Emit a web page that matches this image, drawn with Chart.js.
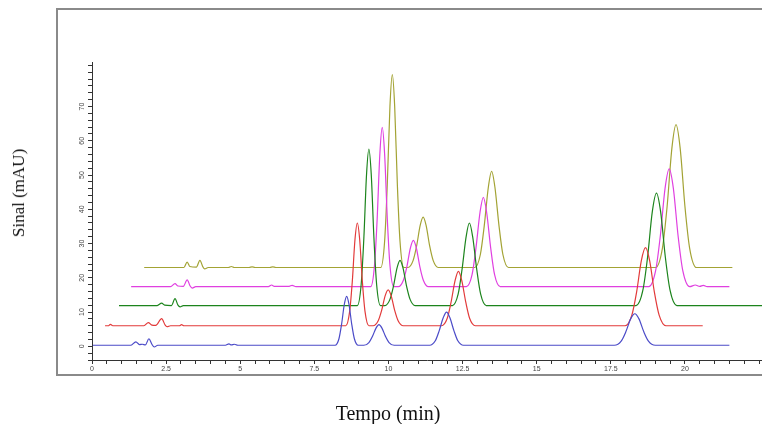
<!DOCTYPE html>
<html>
<head>
<meta charset="utf-8">
<script src="https://cdn.jsdelivr.net/npm/chart.js@4.4.1/dist/chart.umd.min.js"></script>
<style>
  body { margin: 0; background: #fff; }
  #wrap { position: relative; width: 762px; height: 424px; overflow: hidden; }
  #chart { position: absolute; left: 0; top: 0; }
  .axt { position: absolute; font-family: "Liberation Serif", "Times New Roman", serif; color: #111; white-space: nowrap; }
  #ytitle { font-size: 17px; left: 19px; top: 193px; transform: translate(-50%, -50%) rotate(-90deg); }
  #xtitle { font-size: 20px; left: 388px; top: 413px; transform: translate(-50%, -50%); }
</style>
</head>
<body>
<div id="wrap">
  <canvas id="chart" width="762" height="424"></canvas>
  <div class="axt" id="ytitle">Sinal (mAU)</div>
  <div class="axt" id="xtitle">Tempo (min)</div>
</div>
<script>
// chromatogram traces (time in min, signal in mAU)
const blueTime = [0.03, 1.30, 1.48, 1.60, 1.70, 1.80, 1.92, 2.02, 2.10, 2.22, 4.50, 4.62, 4.70, 4.80, 4.92,
  8.20, 8.33, 8.42, 8.51, 8.59, 8.67, 8.76, 8.85, 8.98,
  9.17, 9.34, 9.46, 9.58, 9.68, 9.78, 9.90, 10.02, 10.19,
  11.39, 11.58, 11.71, 11.85, 11.96, 12.07, 12.21, 12.34, 12.53,
  17.62, 17.85, 18.01, 18.17, 18.31, 18.45, 18.61, 18.77, 19.00, 21.50];
const blueSignal = [0.3, 0.3, 1.3, 0.5, 0.6, 0.4, 2.2, 0.6, -0.2, 0.3, 0.3, 0.7, 0.4, 0.6, 0.3,
  0.3, 2.2, 6.5, 12.2, 14.6, 12.2, 6.5, 2.2, 0.3,
  0.3, 1.1, 2.9, 5.3, 6.3, 5.3, 2.9, 1.1, 0.3,
  0.3, 1.6, 4.5, 8.4, 10.0, 8.4, 4.5, 1.6, 0.3,
  0.3, 1.5, 4.3, 8.0, 9.5, 8.0, 4.3, 1.5, 0.3, 0.3];

const redTime = [0.44, 0.55, 0.62, 0.70, 1.75, 1.90, 2.02, 2.15, 2.35, 2.46, 2.53, 2.65, 2.95, 3.02, 3.10,
  8.56, 8.69, 8.78, 8.87, 8.95, 9.03, 9.12, 9.21, 9.34,
  9.48, 9.65, 9.77, 9.89, 9.99, 10.09, 10.21, 10.33, 10.50,
  11.79, 11.98, 12.11, 12.25, 12.36, 12.47, 12.61, 12.74, 12.93,
  17.98, 18.21, 18.37, 18.53, 18.67, 18.81, 18.97, 19.13, 19.36, 20.60];
const redSignal = [6.0, 6.0, 6.4, 6.0, 6.0, 6.9, 6.2, 6.1, 8.1, 6.3, 5.7, 6.0, 6.0, 6.3, 6.0,
  6.0, 10.1, 18.9, 31.1, 36.0, 31.1, 18.9, 10.1, 6.0,
  6.0, 7.4, 10.5, 14.8, 16.5, 14.8, 10.5, 7.4, 6.0,
  6.0, 8.1, 12.8, 19.3, 21.9, 19.3, 12.8, 8.1, 6.0,
  6.0, 9.1, 15.8, 25.0, 28.8, 25.0, 15.8, 9.1, 6.0, 6.0];

const greenTime = [0.91, 2.20, 2.35, 2.45, 2.68, 2.80, 2.90, 2.97, 3.08,
  8.95, 9.08, 9.17, 9.26, 9.34, 9.42, 9.51, 9.60, 9.73,
  9.88, 10.05, 10.17, 10.29, 10.39, 10.49, 10.61, 10.73, 10.90,
  12.16, 12.35, 12.48, 12.62, 12.73, 12.84, 12.98, 13.11, 13.30,
  18.35, 18.58, 18.74, 18.90, 19.04, 19.18, 19.34, 19.50, 19.73, 22.60];
const greenSignal = [11.9, 11.9, 12.6, 12.0, 11.9, 13.9, 12.0, 11.5, 11.9,
  11.9, 18.1, 31.6, 50.1, 57.6, 50.1, 31.6, 18.1, 11.9,
  11.9, 13.7, 17.6, 22.9, 25.1, 22.9, 17.6, 13.7, 11.9,
  11.9, 15.2, 22.3, 32.0, 36.0, 32.0, 22.3, 15.2, 11.9,
  11.9, 16.3, 26.0, 39.3, 44.7, 39.3, 26.0, 16.3, 11.9, 11.9];

const magentaTime = [1.32, 2.65, 2.80, 2.90, 3.08, 3.21, 3.31, 3.38, 3.50, 5.95, 6.06, 6.15, 6.65, 6.75, 6.88,
  9.40, 9.53, 9.62, 9.71, 9.79, 9.87, 9.96, 10.05, 10.18,
  10.33, 10.50, 10.62, 10.74, 10.84, 10.94, 11.06, 11.18, 11.35,
  12.63, 12.82, 12.95, 13.09, 13.20, 13.31, 13.45, 13.58, 13.77,
  18.78, 19.01, 19.17, 19.33, 19.47, 19.61, 19.77, 19.93, 20.16,
  20.35, 20.50, 20.62, 20.75, 21.50];
const magentaSignal = [17.4, 17.4, 18.3, 17.6, 17.5, 19.4, 17.6, 17.0, 17.4, 17.4, 17.9, 17.5, 17.5, 17.8, 17.4,
  17.4, 23.7, 37.4, 56.2, 63.9, 56.2, 37.4, 23.7, 17.4,
  17.4, 19.2, 23.2, 28.7, 30.9, 28.7, 23.2, 19.2, 17.4,
  17.4, 20.9, 28.6, 39.2, 43.5, 39.2, 28.6, 20.9, 17.4,
  17.4, 22.0, 32.2, 46.1, 51.8, 46.1, 32.2, 22.0, 17.4,
  17.9, 17.5, 17.8, 17.4, 17.4];

const oliveTime = [1.76, 3.10, 3.21, 3.30, 3.52, 3.64, 3.74, 3.80, 3.92, 4.60, 4.70, 4.80, 5.30, 5.40, 5.50, 6.00, 6.10, 6.20,
  9.74, 9.87, 9.96, 10.05, 10.13, 10.21, 10.30, 10.39, 10.52,
  10.66, 10.83, 10.95, 11.07, 11.17, 11.27, 11.39, 11.51, 11.68,
  12.91, 13.10, 13.23, 13.37, 13.48, 13.59, 13.73, 13.86, 14.05,
  19.01, 19.24, 19.40, 19.56, 19.70, 19.84, 20.00, 20.16, 20.39, 21.60];
const oliveSignal = [23.0, 23.0, 24.6, 23.3, 23.1, 25.1, 23.2, 22.6, 23.0, 23.0, 23.3, 23.0, 23.0, 23.2, 23.0, 23.0, 23.2, 23.0,
  23.0, 30.6, 47.2, 70.0, 79.3, 70.0, 47.2, 30.6, 23.0,
  23.0, 25.0, 29.3, 35.3, 37.7, 35.3, 29.3, 25.0, 23.0,
  23.0, 26.8, 35.1, 46.5, 51.1, 46.5, 35.1, 26.8, 23.0,
  23.0, 28.6, 40.9, 57.8, 64.7, 57.8, 40.9, 28.6, 23.0, 23.0];

// labelled ticks
const xLabels = [0, 2.5, 5, 7.5, 10, 12.5, 15, 17.5, 20];
const yLabels = [0, 10, 20, 30, 40, 50, 60, 70];

const traceColors = ['#4b4bc8', '#e23a3a', '#1c841c', '#e040e0', '#a3a334'];

function pairs(t, s) {
  return t.map((x, i) => ({ x: x, y: s[i] }));
}

function labelFor(v, list) {
  const hit = list.find(l => Math.abs(l - v) < 1e-6);
  return hit === undefined ? '' : String(hit);
}

// grey frame round the plot, like the exported figure
const framePlugin = {
  id: 'frame',
  beforeDraw(chart) {
    const ctx = chart.ctx;
    ctx.save();
    ctx.fillStyle = '#fff';
    ctx.fillRect(0, 0, chart.width, chart.height);
    ctx.strokeStyle = '#8a8a8a';
    ctx.lineWidth = 2;
    ctx.strokeRect(57, 9, 720, 366);
    ctx.restore();
  }
};

const tickFont = { family: 'Liberation Sans', size: 7 };

const ctx = document.getElementById('chart').getContext('2d');
const myChart = new Chart(ctx, {
  type: 'line',
  data: {
    datasets: [
      { data: pairs(blueTime, blueSignal), borderColor: traceColors[0] },
      { data: pairs(redTime, redSignal), borderColor: traceColors[1] },
      { data: pairs(greenTime, greenSignal), borderColor: traceColors[2] },
      { data: pairs(magentaTime, magentaSignal), borderColor: traceColors[3] },
      { data: pairs(oliveTime, oliveSignal), borderColor: traceColors[4] }
    ]
  },
  options: {
    responsive: false,
    animation: false,
    devicePixelRatio: 1,
    layout: { padding: { top: 62, left: 0, right: 0, bottom: 0 } },
    elements: {
      point: { radius: 0 },
      line: { borderWidth: 1.2, cubicInterpolationMode: 'monotone', fill: false }
    },
    plugins: { legend: { display: false }, tooltip: { enabled: false } },
    scales: {
      x: {
        type: 'linear',
        min: 0,
        max: 22.6,
        afterFit(scale) { scale.height = 64; },
        border: { display: true, color: '#333', width: 1 },
        grid: { drawOnChartArea: false, drawTicks: true, tickLength: 4, tickColor: '#333' },
        ticks: {
          stepSize: 0.5,
          includeBounds: false,
          autoSkip: false,
          maxRotation: 0,
          padding: 1,
          font: tickFont,
          color: '#444',
          callback: v => labelFor(v, xLabels)
        }
      },
      y: {
        type: 'linear',
        min: -4,
        max: 83,
        afterFit(scale) { scale.width = 92; },
        border: { display: true, color: '#333', width: 1 },
        grid: { drawOnChartArea: false, drawTicks: true, tickLength: 4, tickColor: '#333' },
        ticks: {
          stepSize: 2,
          includeBounds: false,
          autoSkip: false,
          minRotation: 90,
          maxRotation: 90,
          crossAlign: 'center',
          padding: 2,
          font: tickFont,
          color: '#444',
          callback: v => labelFor(v, yLabels)
        }
      }
    }
  },
  plugins: [framePlugin]
});
</script>
</body>
</html>
